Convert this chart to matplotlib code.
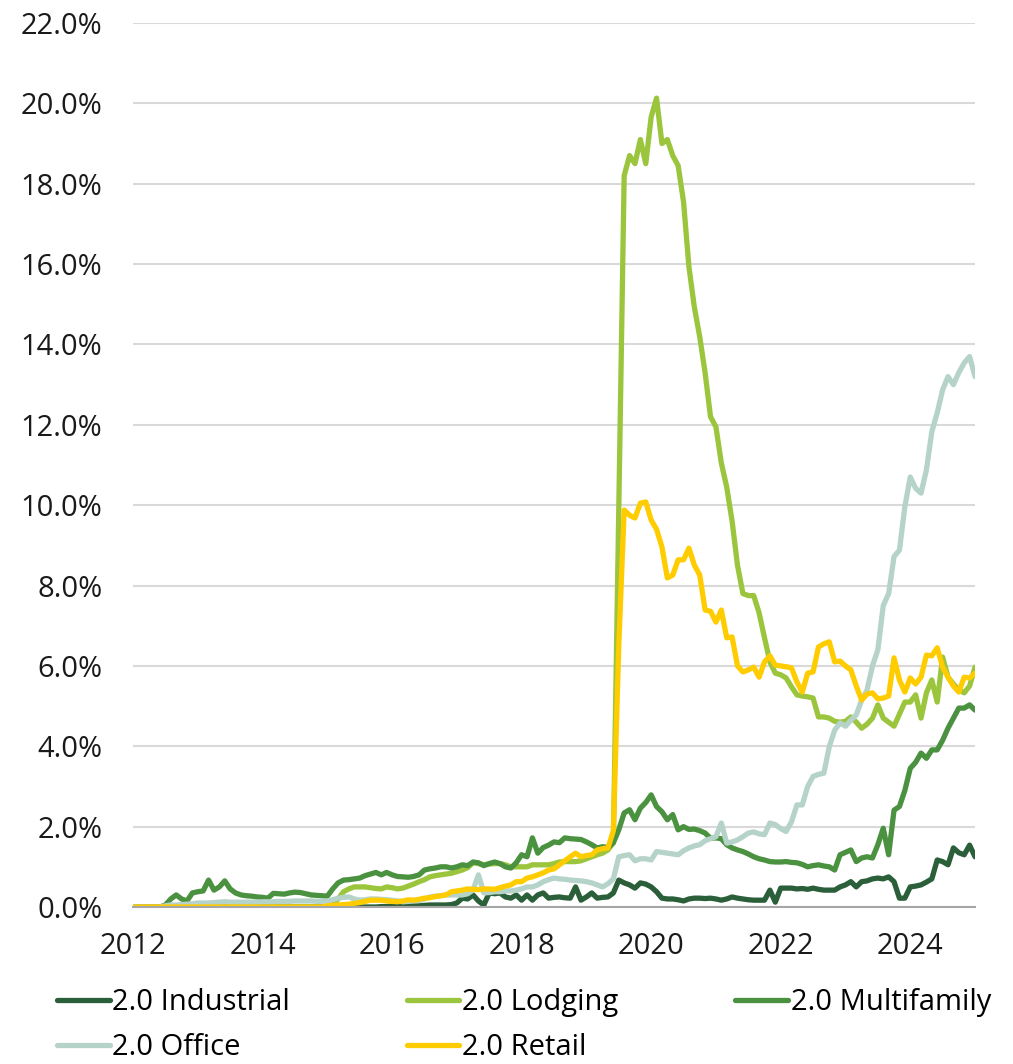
import numpy as np
from matplotlib import pyplot as plt

plt.rcParams['font.family'] = ['Open Sans', 'DejaVu Sans']

# monthly, Jan 2012 .. Jan 2025 (values in %)
industrial = [
    0, 0, 0, 0, 0, 0, 0, 0, 0, 0, 0, 0,
    0, 0, 0, 0, 0, 0, 0, 0, 0, 0, 0, 0,
    0, 0, 0, 0, 0, 0, 0, 0, 0, 0, 0, 0,
    0, 0, 0, 0, 0, 0, 0, 0, 0, 0, 0.01, 0.01,
    0.02, 0.02, 0.02, 0.03, 0.03, 0.03, 0.04, 0.05, 0.05, 0.05, 0.05, 0.06,
    0.1, 0.22, 0.2, 0.3, 0.15, 0.05, 0.35, 0.33, 0.35, 0.25, 0.22, 0.3,
    0.17, 0.3, 0.17, 0.3, 0.35, 0.22, 0.24, 0.25, 0.23, 0.22, 0.5, 0.17,
    0.25, 0.35, 0.22, 0.24, 0.25, 0.35, 0.67, 0.6, 0.55, 0.47, 0.6, 0.57,
    0.5, 0.38, 0.22, 0.2, 0.2, 0.18, 0.15, 0.2, 0.22, 0.22, 0.21, 0.22,
    0.2, 0.17, 0.2, 0.25, 0.22, 0.2, 0.18, 0.17, 0.17, 0.17, 0.42, 0.12,
    0.47, 0.47, 0.47, 0.45, 0.46, 0.44, 0.47, 0.44, 0.42, 0.42, 0.42, 0.5,
    0.55, 0.63, 0.5, 0.63, 0.65, 0.7, 0.72, 0.7, 0.75, 0.63, 0.22, 0.22,
    0.5, 0.52, 0.55, 0.62, 0.7, 1.17, 1.13, 1.05, 1.47, 1.35, 1.3, 1.54,
    1.25]

lodging = [
    0, 0, 0, 0, 0, 0, 0, 0, 0, 0, 0, 0,
    0, 0, 0, 0, 0, 0, 0, 0, 0, 0, 0, 0,
    0, 0, 0, 0, 0, 0, 0, 0, 0, 0, 0, 0,
    0, 0.05, 0.2, 0.38, 0.45, 0.5, 0.5, 0.5, 0.48, 0.46, 0.45, 0.5,
    0.48, 0.45, 0.47, 0.52, 0.57, 0.63, 0.68, 0.75, 0.78, 0.8, 0.82, 0.84,
    0.88, 0.92, 0.98, 1.1, 1.08, 1.05, 1.07, 1.08, 1.08, 1.05, 1.0, 1.0,
    1.0, 1.0, 1.05, 1.05, 1.05, 1.05, 1.08, 1.12, 1.13, 1.13, 1.13, 1.15,
    1.2, 1.25, 1.3, 1.34, 1.42, 1.6, 9.9, 18.2, 18.7, 18.5, 19.1, 18.5,
    19.66, 20.13, 19.0, 19.1, 18.7, 18.45, 17.55, 15.93, 14.93, 14.19, 13.29, 12.2,
    11.95, 11.05, 10.45, 9.6, 8.5, 7.8, 7.75, 7.75, 7.32, 6.7, 6.1, 5.82,
    5.78, 5.7, 5.48, 5.28, 5.25, 5.23, 5.2, 4.73, 4.73, 4.7, 4.62, 4.6,
    4.62, 4.73, 4.6, 4.45, 4.55, 4.7, 5.03, 4.7, 4.6, 4.5, 4.8, 5.1,
    5.1, 5.28, 4.7, 5.33, 5.65, 5.1, 6.22, 5.72, 5.55, 5.4, 5.33, 5.5,
    5.97]

multifamily = [
    0, 0, 0, 0, 0, 0, 0.05, 0.2, 0.3, 0.2, 0.15, 0.35,
    0.38, 0.4, 0.67, 0.42, 0.5, 0.65, 0.45, 0.35, 0.3, 0.28, 0.27, 0.25,
    0.24, 0.22, 0.34, 0.33, 0.32, 0.35, 0.37, 0.36, 0.33, 0.3, 0.29, 0.28,
    0.27, 0.45, 0.6, 0.67, 0.68, 0.7, 0.72, 0.78, 0.82, 0.86, 0.8, 0.86,
    0.8, 0.76, 0.75, 0.74, 0.76, 0.8, 0.92, 0.95, 0.97, 1.0, 1.0, 0.97,
    1.0, 1.05, 1.03, 1.12, 1.1, 1.03, 1.08, 1.12, 1.08, 1.0, 0.97, 1.1,
    1.3, 1.25, 1.72, 1.34, 1.48, 1.54, 1.62, 1.6, 1.72, 1.7, 1.69, 1.68,
    1.62, 1.55, 1.47, 1.5, 1.48, 1.6, 1.92, 2.34, 2.42, 2.17, 2.46, 2.6,
    2.79, 2.5, 2.37, 2.17, 2.3, 1.92, 2.0, 1.93, 1.94, 1.9, 1.84, 1.71,
    1.72, 1.7, 1.55, 1.47, 1.42, 1.38, 1.32, 1.25, 1.2, 1.17, 1.13, 1.12,
    1.12, 1.13, 1.11, 1.1, 1.06, 1.0, 1.03, 1.05, 1.02, 1.0, 0.92, 1.3,
    1.36, 1.42, 1.13, 1.22, 1.25, 1.22, 1.55, 1.96, 1.3, 2.41, 2.5, 2.9,
    3.45, 3.6, 3.83, 3.7, 3.91, 3.91, 4.15, 4.45, 4.7, 4.95, 4.95, 5.03,
    4.9]

office = [
    0, 0, 0, 0, 0, 0, 0.03, 0.05, 0.05, 0.06, 0.07, 0.08,
    0.1, 0.1, 0.1, 0.11, 0.12, 0.13, 0.12, 0.12, 0.12, 0.12, 0.12, 0.12,
    0.13, 0.13, 0.13, 0.14, 0.14, 0.14, 0.15, 0.15, 0.15, 0.15, 0.14, 0.14,
    0.15, 0.18, 0.22, 0.24, 0.25, 0.2, 0.17, 0.18, 0.2, 0.2, 0.19, 0.18,
    0.17, 0.15, 0.13, 0.14, 0.15, 0.16, 0.2, 0.25, 0.27, 0.28, 0.3, 0.3,
    0.3, 0.3, 0.33, 0.42, 0.8, 0.35, 0.36, 0.38, 0.38, 0.4, 0.4, 0.42,
    0.45, 0.5, 0.5, 0.55, 0.63, 0.68, 0.72, 0.7, 0.69, 0.67, 0.66, 0.65,
    0.63, 0.6, 0.55, 0.5, 0.58, 0.7, 1.25, 1.28, 1.3, 1.15, 1.2, 1.2,
    1.17, 1.38, 1.36, 1.34, 1.32, 1.3, 1.4, 1.47, 1.52, 1.55, 1.65, 1.7,
    1.75, 2.09, 1.59, 1.62, 1.67, 1.75, 1.84, 1.87, 1.82, 1.8, 2.09, 2.05,
    1.95, 1.88, 2.12, 2.54, 2.54, 3.0, 3.25, 3.3, 3.33, 3.99, 4.4, 4.58,
    4.5, 4.65, 4.78, 5.15, 5.4, 6.0, 6.4, 7.5, 7.8, 8.72, 8.88, 9.96,
    10.7, 10.42, 10.3, 10.88, 11.83, 12.3, 12.87, 13.2, 13.0, 13.3, 13.54, 13.7,
    13.2]

retail = [
    0, 0, 0, 0, 0, 0, 0, 0, 0, 0, 0, 0,
    0, 0, 0, 0, 0, 0, 0, 0, 0, 0, 0, 0,
    0, 0, 0, 0, 0, 0, 0, 0, 0, 0, 0, 0,
    0.03, 0.04, 0.05, 0.06, 0.07, 0.09, 0.11, 0.14, 0.17, 0.17, 0.17, 0.15,
    0.14, 0.13, 0.15, 0.18, 0.17, 0.19, 0.22, 0.23, 0.26, 0.28, 0.3, 0.38,
    0.4, 0.42, 0.45, 0.44, 0.43, 0.45, 0.45, 0.44, 0.48, 0.52, 0.55, 0.63,
    0.63, 0.72, 0.75, 0.8, 0.85, 0.92, 0.95, 1.05, 1.15, 1.25, 1.34, 1.25,
    1.28, 1.3, 1.42, 1.45, 1.47, 1.9, 6.5, 9.88, 9.75, 9.68, 10.05, 10.08,
    9.63, 9.4, 8.96, 8.19, 8.26, 8.64, 8.64, 8.93, 8.51, 8.26, 7.39, 7.36,
    7.09, 7.39, 6.7, 6.72, 6.0, 5.85, 5.9, 5.97, 5.72, 6.1, 6.25, 6.02,
    6.0, 5.98, 5.95, 5.6, 5.35, 5.82, 5.85, 6.47, 6.55, 6.6, 6.1, 6.12,
    6.0, 5.9, 5.5, 5.15, 5.3, 5.33, 5.18, 5.2, 5.25, 6.2, 5.65, 5.35,
    5.7, 5.55, 5.72, 6.27, 6.25, 6.45, 5.97, 5.72, 5.5, 5.35, 5.72, 5.7,
    5.82]

names = ["2.0 Industrial", "2.0 Lodging", "2.0 Multifamily", "2.0 Office", "2.0 Retail"]
colors = ["#2b5f3a", "#9bc53d", "#4a9140", "#b5d3c9", "#ffcc00"]
year_ticks = [2012, 2014, 2016, 2018, 2020, 2022, 2024]

x = 2012 + np.arange(len(industrial)) / 12

fig = plt.figure(figsize=(10.13, 10.64), dpi=100)
ax = fig.add_axes([133 / 1013, 1 - 907 / 1064, (975 - 133) / 1013, (907 - 23) / 1064])

lines = []
for vals, name, c in zip([industrial, lodging, multifamily, office, retail], names, colors):
    ln, = ax.plot(x, vals, color=c, lw=3.8, label=name, solid_joinstyle='round',
                  solid_capstyle='round')
    lines.append(ln)

ax.set_xlim(2012, x[-1])
ax.set_ylim(0, 22)
ax.set_yticks(np.arange(0, 23, 2))
ax.set_yticklabels([f"{v:.1f}%" for v in np.arange(0, 23, 2)])
ax.set_xticks(year_ticks)
ax.set_xticklabels([str(y) for y in year_ticks])
ax.grid(axis='y', color='#d9d9d9', lw=1.5)
ax.set_axisbelow(True)
for s in ['top', 'right', 'left']:
    ax.spines[s].set_visible(False)
ax.spines['bottom'].set_color('#a6a6a6')
ax.spines['bottom'].set_linewidth(1.5)
ax.tick_params(axis='both', length=0, labelsize=21, colors='#1a1a1a')
ax.tick_params(axis='y', pad=22)
ax.tick_params(axis='x', pad=18)

# legend filled row by row like the original
order = [0, 3, 1, 4, 2]
fig.legend([lines[i] for i in order], [names[i] for i in order],
           loc='upper left', bbox_to_anchor=(57 / 1013, 1 - 988 / 1064), ncol=3,
           frameon=False, fontsize=21, handlelength=1.8, handletextpad=0.1,
           columnspacing=4.0, labelspacing=0.55, borderpad=0, borderaxespad=0)

fig.savefig("out.png", dpi=100)
